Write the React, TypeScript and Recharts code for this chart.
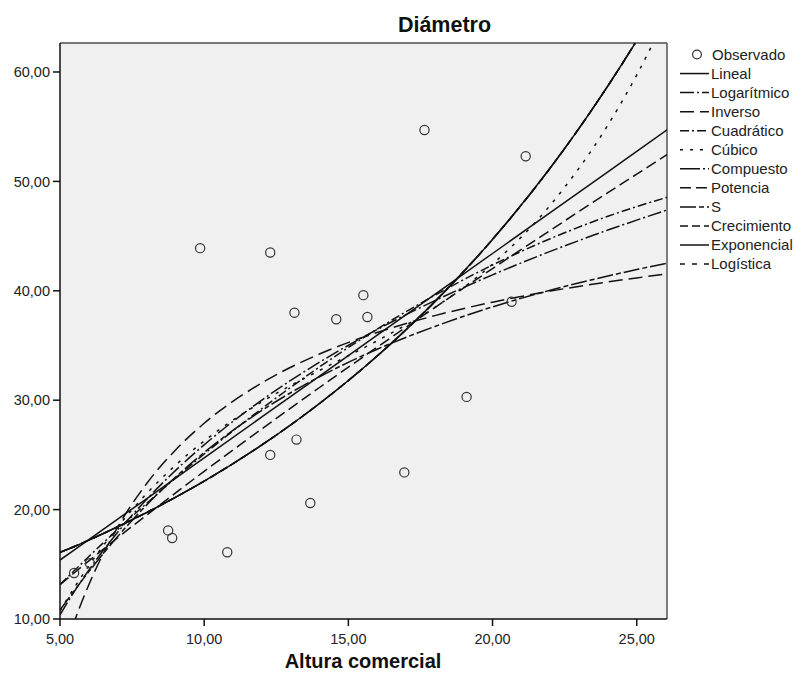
import React from 'react';
import { ComposedChart, Line, Scatter, XAxis, YAxis, CartesianGrid, ReferenceLine } from 'recharts';

// Observed points (Altura comercial, Diámetro)
const obsX = [5.49, 6.04, 8.75, 8.89, 9.86, 10.8, 12.29, 12.29, 13.13, 13.2, 13.68, 14.58, 15.52, 15.66, 16.94, 17.64, 19.1, 20.66, 21.15];
const obsY = [14.2, 15.1, 18.1, 17.4, 43.9, 16.1, 43.5, 25.0, 38.0, 26.4, 20.6, 37.4, 39.6, 37.6, 23.4, 54.7, 30.3, 39.0, 52.3];

// Sample positions along the fitted curves
const fitX = [5, 5.5, 6, 7, 8, 9, 10, 12, 14, 16, 18, 20, 22, 24, 25, 26.1];
const lineal = [15.39, 16.32, 17.26, 19.13, 20.99, 22.86, 24.73, 28.47, 32.2, 35.94, 39.67, 43.41, 47.15, 50.88, 52.75, 54.8];
const logaritmico = [10.38, 12.52, 14.47, 17.93, 20.92, 23.56, 25.92, 30.01, 33.47, 36.46, 39.1, 41.46, 43.6, 45.55, 46.46, 47.43];
const inverso = [5.75, 9.78, 13.13, 18.4, 22.36, 25.43, 27.89, 31.58, 34.22, 36.19, 37.73, 38.96, 39.97, 40.81, 41.18, 41.55];
const cuadratico = [13.14, 14.43, 15.71, 18.18, 20.56, 22.87, 25.08, 29.23, 33.04, 36.5, 39.6, 42.36, 44.76, 46.81, 47.7, 48.58];
const cubico = [10.74, 12.88, 14.86, 18.41, 21.45, 24.04, 26.27, 29.85, 32.72, 35.43, 38.49, 42.44, 47.82, 55.15, 59.72, 65.54];
const potencia = [13.14, 14.23, 15.31, 17.43, 19.49, 21.51, 23.5, 27.38, 31.16, 34.85, 38.47, 42.03, 45.52, 48.97, 50.66, 52.54];
const curvaS = [10.81, 12.61, 14.33, 17.54, 20.41, 22.96, 25.22, 29.06, 32.14, 34.66, 36.74, 38.53, 40.05, 41.35, 41.94, 42.54];
// Compuesto, Crecimiento, Exponencial and Logística coincide
const compuesto = [16.09, 16.63, 17.21, 18.43, 19.73, 21.12, 22.6, 25.91, 29.7, 34.04, 39.01, 44.7, 51.22, 58.73, 62.87, 67.77];
const crecimiento = [16.09, 16.63, 17.21, 18.43, 19.73, 21.12, 22.6, 25.91, 29.7, 34.04, 39.01, 44.7, 51.22, 58.73, 62.87, 67.77];
const exponencial = [16.09, 16.63, 17.21, 18.43, 19.73, 21.12, 22.6, 25.91, 29.7, 34.04, 39.01, 44.7, 51.22, 58.73, 62.87, 67.77];
const logistica = [16.09, 16.63, 17.21, 18.43, 19.73, 21.12, 22.6, 25.91, 29.7, 34.04, 39.01, 44.7, 51.22, 58.73, 62.87, 67.77];

const xTicks = [5, 10, 15, 20, 25];
const yTicks = [10, 20, 30, 40, 50, 60];
const xDomain = [5, 26.05];
const yDomain = [10, 62.65];

const observed = obsX.map((x, i) => ({ x, y: obsY[i] }));
const curveData = fitX.map((x, i) => ({
  x,
  lineal: lineal[i],
  logaritmico: logaritmico[i],
  inverso: inverso[i],
  cuadratico: cuadratico[i],
  cubico: cubico[i],
  compuesto: compuesto[i],
  potencia: potencia[i],
  curvaS: curvaS[i],
  crecimiento: crecimiento[i],
  exponencial: exponencial[i],
  logistica: logistica[i],
}));

const series: { key: string; name: string; dash?: string; linear?: boolean }[] = [
  { key: 'lineal', name: 'Lineal', linear: true },
  { key: 'logaritmico', name: 'Logarítmico', dash: '14 3 2 3' },
  { key: 'inverso', name: 'Inverso', dash: '14 6' },
  { key: 'cuadratico', name: 'Cuadrático', dash: '9 3 2 3' },
  { key: 'cubico', name: 'Cúbico', dash: '3 7' },
  { key: 'compuesto', name: 'Compuesto', dash: '20 3 2 3' },
  { key: 'potencia', name: 'Potencia', dash: '11 5' },
  { key: 'curvaS', name: 'S', dash: '16 3 5 3' },
  { key: 'crecimiento', name: 'Crecimiento', dash: '8 4' },
  { key: 'exponencial', name: 'Exponencial' },
  { key: 'logistica', name: 'Logística', dash: '5 7' },
];

const FONT = '"Liberation Sans", Arial, sans-serif';
const fmt = (v: number) => v.toFixed(2).replace('.', ',');

const Circle = (props: any) => (
  <circle cx={props.cx} cy={props.cy} r={4.6} fill="none" stroke="#333" strokeWidth={1.2} />
);

export default function App() {
  const legendTop = 54.5;
  const step = 19.05;
  return (
    <div style={{ position: 'absolute', left: 0, top: 0, width: 796, height: 682, background: '#fff', fontFamily: FONT }}>
      <ComposedChart
        width={796}
        height={682}
        data={curveData}
        margin={{ top: 43, right: 129, bottom: 0, left: 0 }}
      >
        <CartesianGrid fill="#f0f0f0" horizontal={false} vertical={false} />
        <XAxis
          type="number"
          dataKey="x"
          domain={xDomain}
          ticks={xTicks}
          allowDataOverflow
          tickFormatter={fmt}
          height={63}
          tickSize={7}
          tickMargin={8}
          stroke="#111"
          axisLine={{ stroke: '#111', strokeWidth: 1.5 }}
          tickLine={{ stroke: '#111', strokeWidth: 1.5 }}
          tick={{ fill: '#222', fontSize: 14.5, fontFamily: FONT }}
        />
        <YAxis
          type="number"
          domain={yDomain}
          ticks={yTicks}
          allowDataOverflow
          tickFormatter={fmt}
          width={60}
          tickSize={7}
          tickMargin={3}
          stroke="#111"
          axisLine={{ stroke: '#111', strokeWidth: 1.5 }}
          tickLine={{ stroke: '#111', strokeWidth: 1.5 }}
          tick={{ fill: '#222', fontSize: 14.5, fontFamily: FONT }}
        />
        <ReferenceLine y={yDomain[1]} stroke="#777" strokeWidth={2} />
        <ReferenceLine x={xDomain[1]} stroke="#555" strokeWidth={1.5} />
        {series.map((s) => (
          <Line
            key={s.key}
            dataKey={s.key}
            name={s.name}
            type={s.linear ? 'linear' : 'monotone'}
            stroke="#111"
            strokeWidth={1.5}
            strokeDasharray={s.dash}
            dot={false}
            activeDot={false}
            isAnimationActive={false}
          />
        ))}
        <Scatter data={observed} dataKey="y" name="Observado" shape={Circle} isAnimationActive={false} />
      </ComposedChart>
      <svg
        width={796}
        height={682}
        style={{ position: 'absolute', left: 0, top: 0, pointerEvents: 'none' }}
        fontFamily={FONT}
      >
        <text x={444.5} y={32} textAnchor="middle" fontSize={21.5} fontWeight="bold" fill="#111">
          Diámetro
        </text>
        <text x={363} y={668} textAnchor="middle" fontSize={20} fontWeight="bold" fill="#111">
          Altura comercial
        </text>
        <circle cx={697} cy={legendTop} r={4.4} fill="none" stroke="#333" strokeWidth={1.2} />
        <text x={712} y={legendTop + 5.3} fontSize={15} fill="#222">Observado</text>
        {series.map((s, i) => {
          const cy = legendTop + step * (i + 1);
          return (
            <g key={s.key}>
              <line x1={680} x2={709} y1={cy} y2={cy} stroke="#111" strokeWidth={1.5} strokeDasharray={s.dash} />
              <text x={711} y={cy + 5.3} fontSize={15} fill="#222">{s.name}</text>
            </g>
          );
        })}
      </svg>
    </div>
  );
}
